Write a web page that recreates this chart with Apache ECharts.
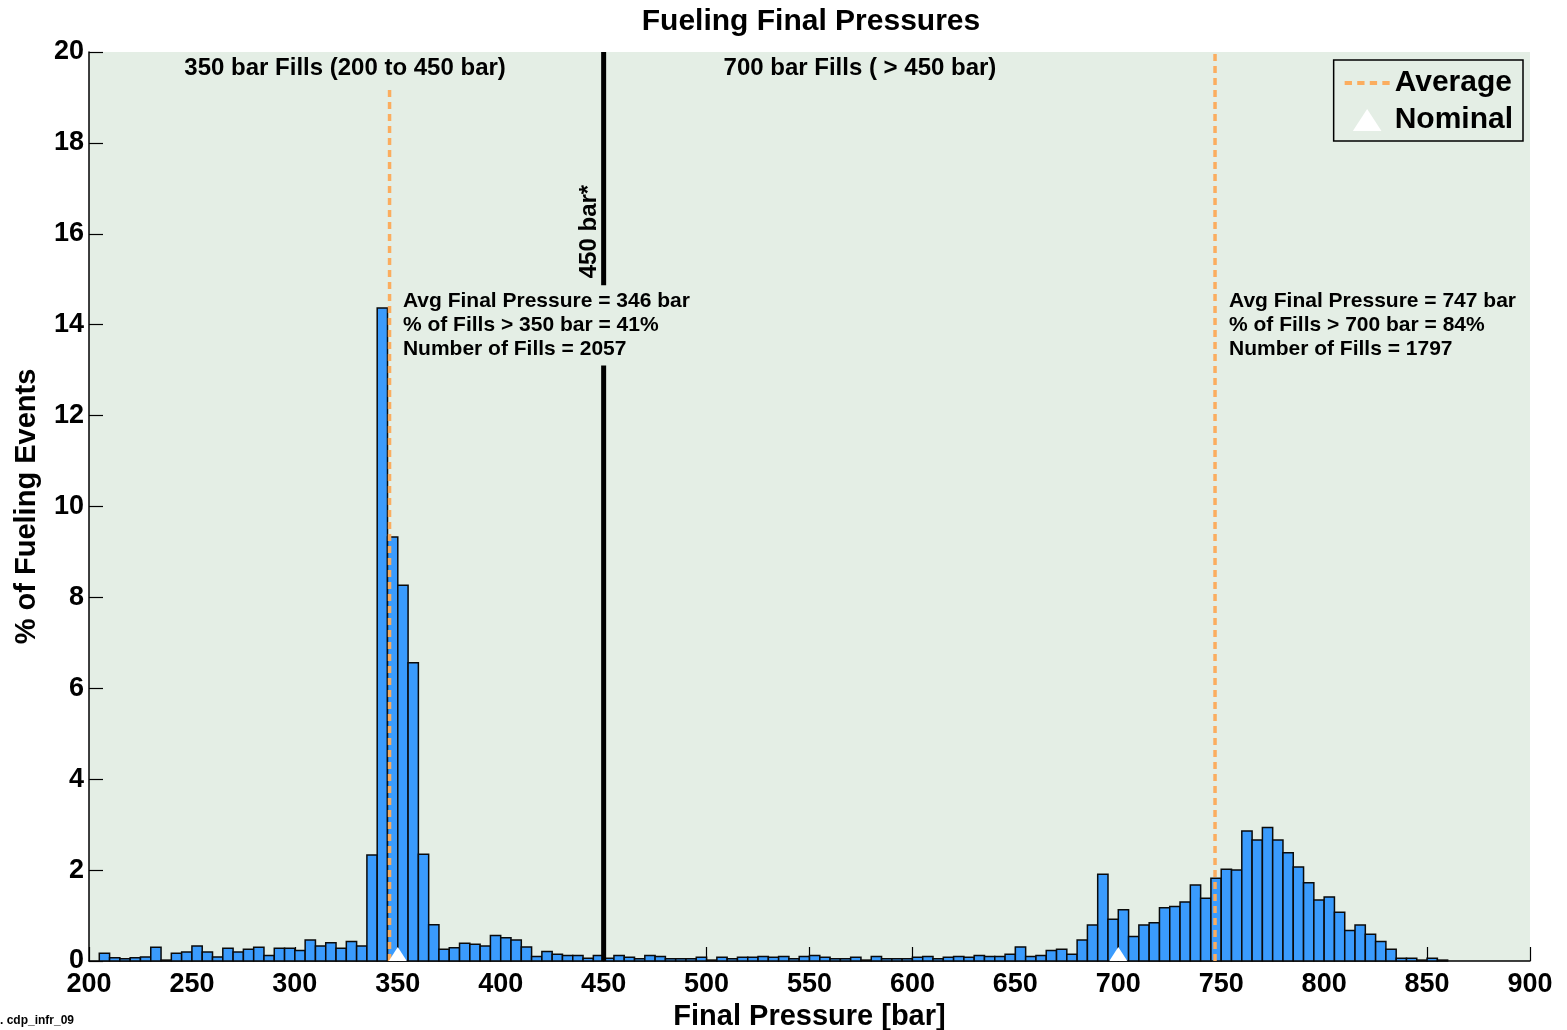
<!DOCTYPE html>
<html>
<head>
<meta charset="utf-8">
<script src="https://cdn.jsdelivr.net/npm/echarts@6/dist/echarts.min.js"></script>
<style>
html,body{margin:0;padding:0;background:#fff;}
#chart{width:1567px;height:1030px;}
</style>
</head>
<body>
<div id="chart"></div>
<script>
// Histogram bins: 5 bar wide, starting at 200 bar
const BIN_START = 200;
const BIN_WIDTH = 5;
// % of fueling events per 5-bar bin (200..895)
const pct200to335 = [0, 0.17, 0.07, 0.05, 0.07, 0.09, 0.30, 0.02, 0.17, 0.20, 0.33, 0.20, 0.09, 0.28,
                     0.20, 0.26, 0.30, 0.12, 0.28, 0.28, 0.23, 0.46, 0.33, 0.40, 0.28, 0.43, 0.33, 2.33];
const pct340to455 = [14.37, 9.33, 8.27, 6.56, 2.35, 0.80, 0.26, 0.29, 0.39, 0.37, 0.33, 0.56,
                     0.51, 0.46, 0.31, 0.10, 0.21, 0.15, 0.12, 0.12, 0.06, 0.12, 0.06, 0.12];
const pct460to655 = [0.08, 0.05, 0.12, 0.10, 0.05, 0.05, 0.05, 0.08, 0.02, 0.08, 0.05, 0.08, 0.08, 0.10,
                     0.08, 0.10, 0.05, 0.10, 0.12, 0.08, 0.05, 0.05, 0.08, 0.02, 0.10, 0.05, 0.05, 0.05,
                     0.08, 0.10, 0.05, 0.08, 0.10, 0.08, 0.12, 0.10, 0.10, 0.15, 0.31, 0.10];
const pct660to895 = [0.12, 0.23, 0.26, 0.15, 0.46, 0.79, 1.91, 0.92, 1.13, 0.54, 0.79, 0.84, 1.17, 1.20,
                     1.30, 1.67, 1.38, 1.82, 2.02, 2.00, 2.86, 2.66, 2.94, 2.66, 2.38, 2.07, 1.72, 1.34,
                     1.41, 1.07, 0.67, 0.79, 0.59, 0.43, 0.26, 0.06, 0.06, 0.02, 0.06, 0.02,
                     0, 0, 0, 0, 0, 0, 0, 0];
const pctValues = [].concat(pct200to335, pct340to455, pct460to655, pct660to895);

const xTicks = [200, 250, 300, 350, 400, 450, 500, 550, 600, 650, 700, 750, 800, 850, 900];
const yTicks = [0, 2, 4, 6, 8, 10, 12, 14, 16, 18, 20];

const averages350 = 346, averages700 = 747;
const nominalPressures = [350, 700];
const splitPressure = 450;

const stats350 = ['Avg Final Pressure = 346 bar', '% of Fills > 350 bar = 41%', 'Number of Fills = 2057'];
const stats700 = ['Avg Final Pressure = 747 bar', '% of Fills > 700 bar = 84%', 'Number of Fills = 1797'];

const FONT = '"Liberation Sans", Arial, Helvetica, sans-serif';
const BG = '#e4eee5';
const ORANGE = '#fbad5f';

const histData = pctValues.map((v, i) => [BIN_START + i * BIN_WIDTH, v]);

const chart = echarts.init(document.getElementById('chart'), null, {renderer: 'canvas'});

const annotStyle = {fontFamily: FONT, fontWeight: 'bold', color: '#000', textBorderWidth: 0, position: [0, 0]};

const option = {
  backgroundColor: '#fff',
  animation: false,
  title: {
    text: 'Fueling Final Pressures',
    left: 806, top: 2, textAlign: 'center',
    textStyle: {fontFamily: FONT, fontWeight: 'bold', fontSize: 30, color: '#000'}
  },
  grid: {left: 89, right: 37, top: 52, bottom: 69, show: true, backgroundColor: BG, borderWidth: 0,
         containLabel: false, outerBoundsMode: 'none'},
  legend: {
    data: [
      {name: 'Average', icon: 'path://M0,0h7v4h-7z M12,0h7v4h-7z M24,0h7v4h-7z M36,0h7v4h-7z'},
      {name: 'Nominal', icon: 'path://M13,0L26,20L0,20z'}
    ],
    orient: 'vertical', right: 44, top: 60,
    padding: [7, 10, 5, 11], itemGap: 5,
    itemWidth: 45, itemHeight: 22,
    borderColor: '#000', borderWidth: 1.5, backgroundColor: BG,
    textStyle: {fontFamily: FONT, fontWeight: 'bold', fontSize: 30, color: '#000', lineHeight: 32}
  },
  xAxis: {
    type: 'value', min: 200, max: 900, interval: 50,
    name: 'Final Pressure [bar]', nameLocation: 'middle', nameGap: 40,
    nameTextStyle: {fontFamily: FONT, fontWeight: 'bold', fontSize: 29, color: '#000'},
    axisLine: {show: true, onZero: false, lineStyle: {color: '#000', width: 1.5}},
    axisTick: {show: true, inside: true, length: 14, lineStyle: {color: '#000', width: 1.2}},
    axisLabel: {fontFamily: FONT, fontWeight: 'bold', fontSize: 27, color: '#000', margin: 10,
      formatter: v => (xTicks.indexOf(v) >= 0 ? String(v) : '')},
    splitLine: {show: false}
  },
  yAxis: {
    type: 'value', min: 0, max: 20, interval: 2,
    name: '% of Fueling Events', nameLocation: 'middle', nameGap: 48,
    nameTextStyle: {fontFamily: FONT, fontWeight: 'bold', fontSize: 29, color: '#000'},
    axisLine: {show: true, lineStyle: {color: '#000', width: 1.5}},
    axisTick: {show: true, inside: true, length: 14, lineStyle: {color: '#000', width: 1.2}},
    axisLabel: {fontFamily: FONT, fontWeight: 'bold', fontSize: 27, color: '#000', margin: 5,
      formatter: v => (yTicks.indexOf(v) >= 0 ? String(v) : '')},
    splitLine: {show: false}
  },
  series: [
    {
      type: 'custom', name: 'hist', z: 2,
      data: histData,
      encode: {x: 0, y: 1},
      renderItem: function (params, api) {
        const x0 = api.value(0), v = api.value(1);
        if (!v) return null;
        const p0 = api.coord([x0, 0]);
        const p1 = api.coord([x0 + BIN_WIDTH, v]);
        return {
          type: 'rect',
          shape: {x: p0[0], y: p1[1], width: p1[0] - p0[0], height: p0[1] - p1[1]},
          style: {fill: '#3a9bfd', stroke: '#0a0a0a', lineWidth: 1.5}
        };
      }
    },
    {
      type: 'line', name: 'Average', z: 4, symbol: 'none', silent: true,
      data: [[averages350, 0], [averages350, 19.2]],
      lineStyle: {color: ORANGE, width: 3.5, type: [7, 5]},
      itemStyle: {color: ORANGE}
    },
    {
      type: 'line', name: 'Average', z: 4, symbol: 'none', silent: true,
      data: [[averages700, 0], [averages700, 20]],
      lineStyle: {color: ORANGE, width: 3.5, type: [7, 5]},
      itemStyle: {color: ORANGE}
    },
    {
      type: 'line', name: 'split-low', z: 5, symbol: 'none', silent: true,
      data: [[splitPressure, 0], [splitPressure, 13.1]],
      lineStyle: {color: '#000', width: 5}
    },
    {
      type: 'line', name: 'split-high', z: 5, symbol: 'none', silent: true,
      data: [[splitPressure, 14.87], [splitPressure, 20]],
      lineStyle: {color: '#000', width: 5}
    },
    {
      type: 'scatter', name: 'Nominal', z: 6, silent: true,
      symbol: 'triangle', symbolSize: [18, 14], symbolOffset: [0, -7],
      itemStyle: {color: '#fff', opacity: 1},
      data: nominalPressures.map(p => [p, 0])
    },
    {
      type: 'scatter', name: 'annotations', z: 7, silent: true,
      symbolSize: 0,
      itemStyle: {opacity: 1},
      data: [
        {value: [324.4, 19.65], label: {show: true, formatter: '350 bar Fills (200 to 450 bar)', align: 'center', verticalAlign: 'middle', fontSize: 24, ...annotStyle}},
        {value: [574.5, 19.65], label: {show: true, formatter: '700 bar Fills ( > 450 bar)', align: 'center', verticalAlign: 'middle', fontSize: 24, ...annotStyle}},
        {value: [352.5, 14.79], label: {show: true, formatter: stats350.join('\n'), align: 'left', verticalAlign: 'top', fontSize: 21, lineHeight: 24, ...annotStyle}},
        {value: [753.8, 14.79], label: {show: true, formatter: stats700.join('\n'), align: 'left', verticalAlign: 'top', fontSize: 21, lineHeight: 24, ...annotStyle}},
        {value: [443.2, 16.05], label: {show: true, formatter: '450 bar*', rotate: 90, align: 'center', verticalAlign: 'middle', fontSize: 24, ...annotStyle}}
      ]
    }
  ],
  graphic: [
    {type: 'text', left: 0, top: 1015, style: {text: '. cdp_infr_09', fill: '#000', font: 'bold 12px ' + FONT}}
  ]
};
chart.setOption(option);
</script>
</body>
</html>
